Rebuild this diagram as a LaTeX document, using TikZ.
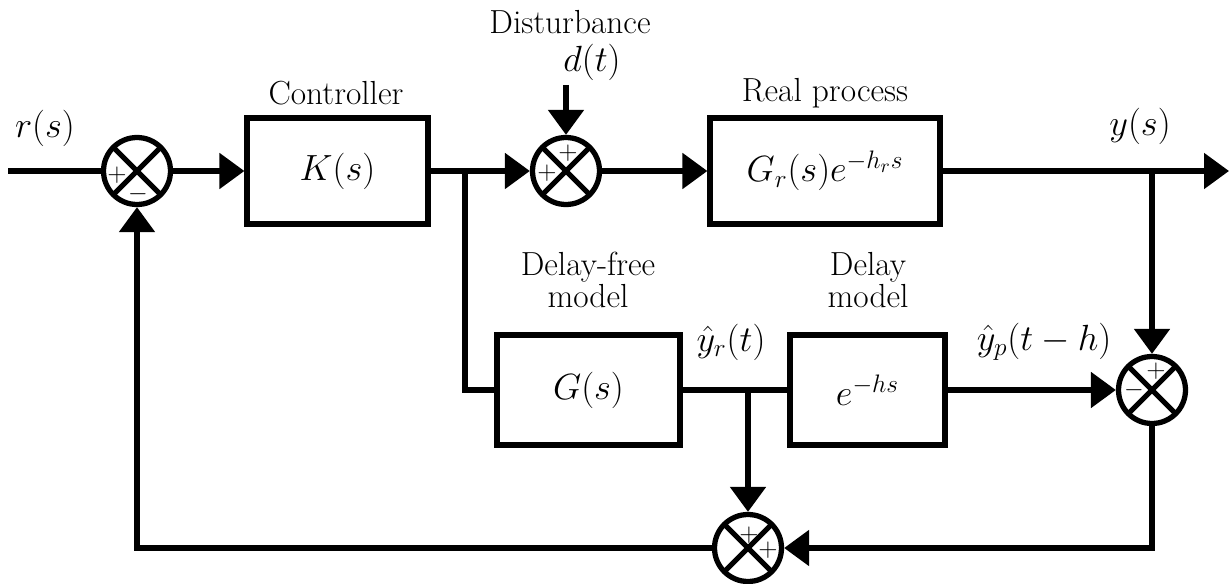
\documentclass[tikz,border=0pt]{standalone}
\usepackage{amsmath}
\usepackage{tikz}
\usetikzlibrary{positioning,arrows.meta,calc}

\begin{document}
\begin{tikzpicture}[x=0.02cm,y=-0.02cm,font=\fontsize{19}{16.5}\selectfont,
  blk/.style ={draw,line width=3pt,minimum width=#1,inner sep=0pt,font=\fontsize{21}{21}\selectfont},
  blk/.default=3.6cm,
  sumj/.style={draw,circle,line width=3pt,minimum size=1.34cm,inner sep=0pt,
    path picture={\draw[line width=3pt] (path picture bounding box.north west)--(path picture bounding box.south east)
      (path picture bounding box.north east)--(path picture bounding box.south west);}},
  sgn/.style ={inner sep=0pt,font=\fontsize{15}{15}\selectfont},
  mth/.style ={inner sep=1pt,font=\fontsize{21}{21}\selectfont},
  wire/.style={line width=3pt},
  flow/.style={wire,-{Triangle[length=0.5cm,width=0.7cm]}}]
\useasboundingbox (0,0) rectangle (1231,584);
% blocks
\node[blk=3.62cm,minimum height=2.12cm] (ctrl) at (337.5,171) {$K(s)$};
\node[blk=4.6cm,minimum height=2.12cm]  (real) at (825,171) {$G_r(s)e^{-h_rs}$};
\node[blk=3.66cm,minimum height=2.2cm]  (gs)   at (588.5,390) {$G(s)$};
\node[blk=3.1cm,minimum height=2.2cm]   (dm)   at (867.5,390) {$e^{-hs}$};
% summing junctions
\node[sumj] (s1) at (137,171) {};
\node[sumj] (s2) at (566,171) {};
\node[sumj] (s3) at (1152,390) {};
\node[sumj] (s4) at (748,548) {};
\node[sgn] (s1a) at (117,175) {$+$};
\node[sgn] (s1b) at (138,194) {$-$};
\node[sgn] (s2a) at (568,153) {$+$};
\node[sgn] (s2b) at (547,173) {$+$};
\node[sgn] (s3a) at (1156,371) {$+$};
\node[sgn] (s3b) at (1134,390) {$-$};
\node[sgn] (s4a) at (749,535) {$+$};
\node[sgn] (s4b) at (768,550) {$+$};
% texts
\node (ctrlT) at (336,93)  {Controller};
\node (realT) at (825,93)  {Real process};
\node (distT) at (570,22)  {Disturbance};
\node[mth] (dT)  at (592,62)  {$d(t)$};
\node[mth] (rT)  at (45,128)  {$r(s)$};
\node[mth] (yT)  at (1140,126) {$y(s)$};
\node[align=center] (gsT) at (588,280) {Delay-free\\model};
\node[align=center] (dmT) at (868,280) {Delay\\model};
\node[mth] (yrT) at (731,342) {$\hat{y}_r(t)$};
\node[mth] (ypT) at (1044,342) {$\hat{y}_p(t-h)$};
% end points and branch points
\coordinate (in)  at (8,171);
\coordinate (out) at (1229,171);
\coordinate (dtop) at (566,85);
\coordinate (br1) at (465,171);
\coordinate (br2) at (1152,171);
\coordinate (br3) at (748,390);
% connectors
\draw[wire] (in) -- (s1.west);
\draw[flow] (s1.east) -- (ctrl.west);
\draw[flow] (ctrl.east) -- (s2.west);
\draw[flow] (dtop) -- (s2.north);
\draw[flow] (s2.east) -- (real.west);
\draw[flow] (real.east) -- (out);
\draw[wire] (br1) |- (gs.west);
\draw[flow] (br2) -- (s3.north);
\draw[wire] (gs.east) -- (dm.west);
\draw[flow] (br3) -- (s4.north);
\draw[flow] (dm.east) -- (s3.west);
\draw[flow] (s3.south) |- (s4.east);
\draw[flow] (s4.west) -| (s1.south);
\end{tikzpicture}
\end{document}
